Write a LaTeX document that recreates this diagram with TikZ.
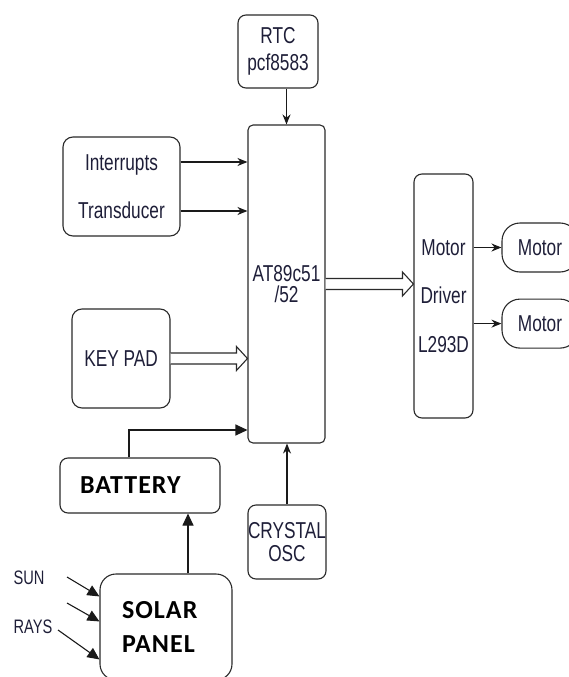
\documentclass[tikz,border=0pt]{standalone}
\usepackage{fontspec}
\usepackage{xcolor}
\usepackage{tikz}
\usetikzlibrary{
  arrows.meta,
  positioning, calc
}
\newfontfamily\diagfont{Liberation Sans}[FakeStretch=0.75]
\newfontfamily\panelfont{Carlito}[LetterSpace=4]
\definecolor{boxline} {HTML}{2A2A2A}
\definecolor{inktext} {HTML}{1E1E38}
\definecolor{arrowcol}{HTML}{1A1A1A}
\tikzset{
  blockbox/.style={
    rectangle, rounded corners=#1,
    inner sep=0pt, align=center,
    font=\diagfont\fontsize{23}{27.6}\selectfont,
    draw=boxline, text=inktext, line width=1.1pt
  },
  blockbox/.default=8pt,
  boldbox/.style={
    rectangle, rounded corners=#1,
    inner sep=0pt, align=left,
    font=\panelfont\bfseries\fontsize{26}{30}\selectfont,
    draw=boxline, text=black, line width=1.1pt
  },
  boldbox/.default=8pt,
  raylabel/.style={
    inner sep=0pt, text=inktext,
    font=\diagfont\fontsize{19.5}{22}\selectfont
  },
  sig/.style={-{Stealth[length=10pt,width=8pt]}, line width=1.1pt, color=arrowcol},
  pwr/.style={-{Triangle[length=12pt,width=11pt]}, line width=1.1pt, color=arrowcol},
  busarrow/.style={line width=1.1pt, draw=boxline, fill=white}
}

\begin{document}
\begin{tikzpicture}[x=1pt, y=-1pt]
  \useasboundingbox (0,0) rectangle (569,677);
  \clip (0,0) rectangle (569,677);

  \node[blockbox, minimum width=80pt, minimum height=73pt] (rtc) at (278,51.5)
    {RTC\\pcf8583};
  \node[blockbox=5pt, minimum width=77pt, minimum height=318pt] (mcu) at (286.5,284)
    {AT89c51\\[-6pt]/52};
  \node[blockbox=10pt, minimum width=117pt, minimum height=99pt] (inbox) at (121.5,186.5)
    {Interrupts\\[20pt]Transducer};
  \node[blockbox=10pt, minimum width=98pt, minimum height=99pt] (keypad) at (121,358.5)
    {KEY PAD};
  \node[blockbox, minimum width=78pt, minimum height=74pt] (xtal) at (287,542)
    {CRYSTAL\\[-5pt]OSC};
  \node[blockbox, minimum width=59pt, minimum height=244pt] (drv) at (443.5,296)
    {Motor\\[21pt]Driver\\[21pt]L293D};
  \node[blockbox=18pt, minimum width=76pt, minimum height=49pt] (m1) at (540,247.5) {Motor};
  \node[blockbox=18pt, minimum width=76pt, minimum height=49pt, below=26pt of m1] (m2) {Motor};

  \node[boldbox, minimum width=160pt, minimum height=55pt, text width=120pt] (bat) at (140,485.5)
    {BATTERY};
  \node[boldbox=16pt, minimum width=132pt, minimum height=106pt, text width=88pt] (solar) at (166,627)
    {SOLAR\\[4pt]PANEL};

  \node[raylabel] (sun) at (29,578) {SUN};
  \node[raylabel] (rays) at (33,627) {RAYS};

  % signal lines into the controller
  \coordinate (irq) at ([yshift=24.5pt]inbox.east);
  \coordinate (tdc) at ([yshift=-24.5pt]inbox.east);
  \draw[sig] (rtc.south -| mcu.north) -- (mcu.north);
  \foreach \s in {irq, tdc}{
    \draw[sig] (\s) -- (\s -| mcu.west);
  }
  \draw[sig] (xtal.north) -- (xtal.north |- mcu.south);
  \foreach \m in {m1, m2}{
    \draw[sig] (\m.west -| drv.east) -- (\m.west);
  }

  % bus arrows
  \foreach \a/\b in {keypad/mcu, mcu/drv}{
    \draw[busarrow] let \p1=(\a.east), \p2=(\a.east -| \b.west) in
      (\x1,\y1+5.5pt) -- (\x2-11pt,\y1+5.5pt) -- (\x2-11pt,\y1+12pt) -- (\x2,\y1)
      -- (\x2-11pt,\y1-12pt) -- (\x2-11pt,\y1-5.5pt) -- (\x1,\y1-5.5pt);
  }

  % power path
  \coordinate (feed) at ([xshift=22pt]solar.north);
  \draw[pwr] (feed) -- (feed |- bat.south);
  \draw[pwr] ([xshift=-11pt]bat.north) |- (mcu.west |- 0,430);

  \coordinate (ray1) at (67,577);
  \coordinate (ray2) at (67,603);
  \coordinate (ray3) at (58,630);
  \foreach \r/\d in {ray1/23, ray2/48, ray3/86}{
    \draw[pwr] (\r) -- ([yshift=-\d pt]solar.north west);
  }
\end{tikzpicture}
\end{document}
